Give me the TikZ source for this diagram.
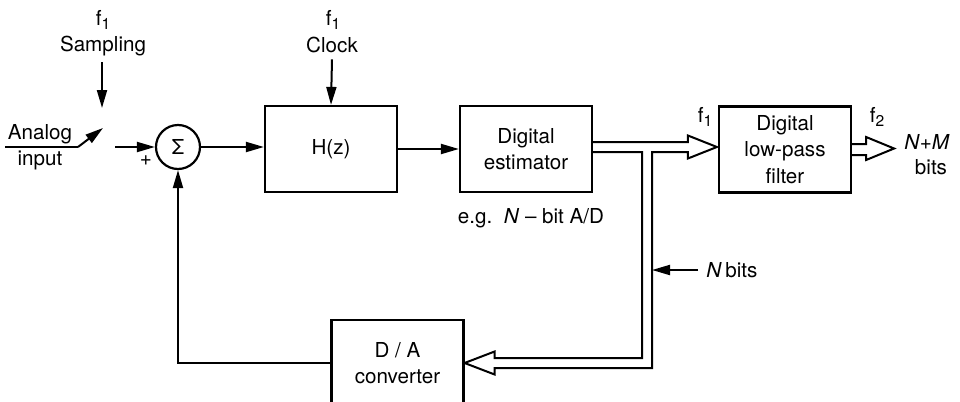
\documentclass[tikz,border=0pt]{standalone}
\usepackage{fontspec}
\setmainfont{TeX Gyre Heros}
\usetikzlibrary{arrows.meta,calc}
\newcommand{\fsub}[1]{f\raisebox{-0.45ex}{\fontsize{7.8}{8}\selectfont #1}}
\begin{document}
\begin{tikzpicture}[x=0.5pt,y=-0.5pt,
  every node/.style={font=\fontsize{10.3}{13.3}\selectfont, inner sep=0pt},
  blk/.style={draw, line width=1.1pt, minimum width=66pt, minimum height=43pt, align=center},
  wire/.style={line width=1pt},
  arr/.style={wire, -{Triangle[length=9pt,width=5pt]}},
  bus/.style={line width=1pt, line join=miter}]
\clip (0,0) rectangle (960,402);
\fill[white] (0,0) rectangle (960,402);
% blocks
\node[blk] (H) at (331,149) {H(z)};
\node[blk] (est) at (526,149) {Digital\\estimator};
\node[blk] (lpf) at (785,149.5) {Digital\\low-pass\\filter};
\node[blk] (da) at (397.5,363) {D / A\\converter};
\node[draw, circle, line width=1.1pt, minimum size=22pt] (sum) at (178,147) {Σ};
% labels
\node (f1a) at (103,20) {\fsub{1}};
\node (samp) at (103,46) {Sampling};
\node (an) at (40,134) {Analog};
\node (inp) at (40,160) {input};
\node (plus) at (146,161) {+};
\node (f1b) at (333,20) {\fsub{1}};
\node (clk) at (332,45) {Clock};
\node (eg) at (531,218) {e.g.\ \ \textit{N} – bit A/D};
\node (f1c) at (705,117) {\fsub{1}};
\node (f2) at (877,117) {\fsub{2}};
\node (nm) at (927,142) {\textit{N}+\textit{M}};
\node (bits) at (931,167) {bits};
\node[anchor=west] (nbits) at (706,270) {\textit{N}\,bits};
% coordinates
\coordinate (sampS) at (102,62);
\coordinate (sampE) at (102,108);
\coordinate (a0) at (5,147);
\coordinate (a1) at (78,147);
\coordinate (a2) at (103,128);
\coordinate (in) at (115,147);
\coordinate (bs) at ($(est.east)+(0,-2)$);
\coordinate (be) at ($(lpf.west)+(-1,-2.5)$);
\coordinate (col) at (647,147);
\coordinate (de) at (da.east);
\coordinate (colb) at (col |- de);
\coordinate (G) at ($(col)+(5,5)$);
\coordinate (nbs) at (698,270);
\coordinate (ot) at ($(lpf.east)+(42,-1)$);
% signal arrows
\draw[arr] (sampS) -- (sampE);
\draw[wire] (a0) -- (a1);
\draw[arr] (a1) -- (a2);
\draw[arr] (in) -- (sum.west);
\draw[arr] (sum.east) -- (sum.east -| H.west);
\draw[arr] ($(clk.south)+(0,6)$) -- (H.north);
\draw[arr] (H.east) -- (est.west);
\draw[arr] (da.west) -| (sum.south);
\draw[arr] (nbs) -- (nbs -| G);
% N-bit bus from estimator to low-pass filter and D/A converter
\draw[bus] ($(bs)+(0,-5)$) -- ($(be)+(-29,-5)$) -- ($(be)+(-29,-11.5)$) -- (be)
  -- ($(be)+(-29,11.5)$) -- ($(be)+(-29,5)$) -- (G) -- ($(colb)+(5,5)$)
  -- ($(de)+(30,5)$) -- ($(de)+(30,11.5)$) -- (de) -- ($(de)+(30,-11.5)$)
  -- ($(de)+(30,-5)$) -- ($(colb)+(-5,-5)$) -- ($(col)+(-5,5)$) -- ($(bs)+(0,5)$);
% output bus
\draw[bus] ($(lpf.east)+(0,-5.5)$) -- ($(ot)+(-28,-4.5)$) -- ($(ot)+(-28,-11.5)$) -- (ot)
  -- ($(ot)+(-28,11.5)$) -- ($(ot)+(-28,6.5)$) -- ($(lpf.east)+(0,5.5)$);
\end{tikzpicture}
\end{document}
